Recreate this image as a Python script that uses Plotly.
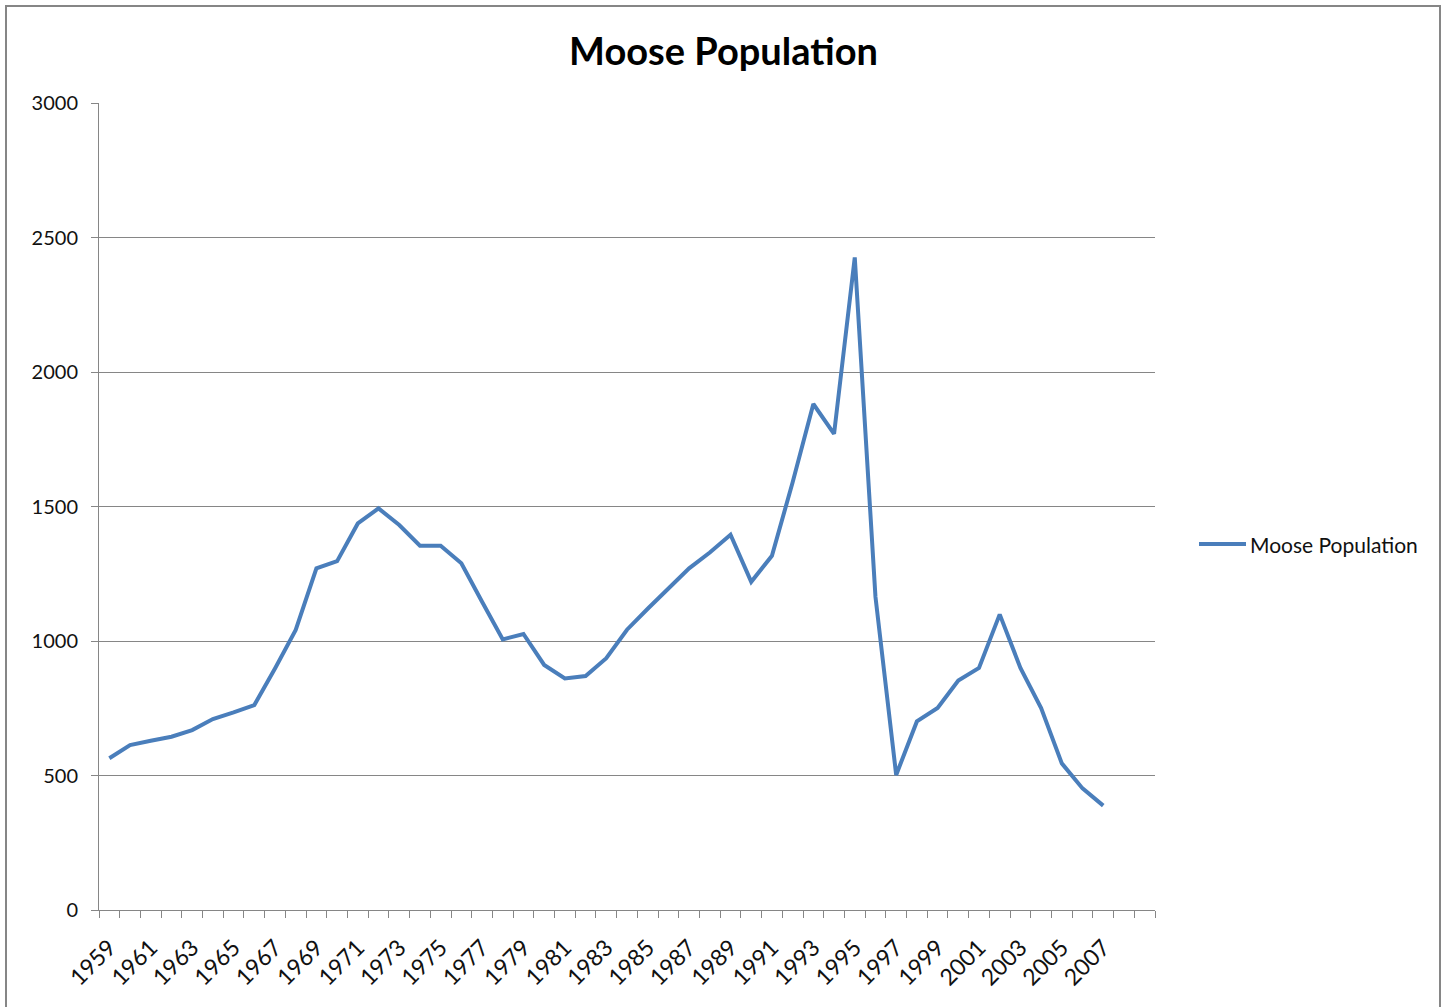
import plotly.graph_objects as go

years = list(range(1959, 2008))
moose = [564, 613, 629, 644, 669, 710, 735, 762, 898, 1041,
         1270, 1297, 1437, 1493, 1431, 1354, 1354, 1289, 1146, 1006,
         1026, 911, 861, 870, 936, 1042, 1120, 1196, 1270, 1329,
         1395, 1220, 1317, 1590, 1881, 1770, 2426, 1164, 502, 701,
         751, 853, 900, 1099, 900, 751, 545, 452, 388]
tick_years = list(range(1959, 2008, 2))
tick_text = [str(y) for y in tick_years]
y_ticks = [0, 500, 1000, 1500, 2000, 2500, 3000]

W, H = 1447, 1007
L, R, T, B = 99, 1155, 103, 910
pw, ph = R - L, B - T

def px(x):
    return (x - L) / pw

def py(y):
    return (B - y) / ph

FONT = "Lato, Carlito, Calibri, sans-serif"
LINE = "#4a7ebb"
GRID = "#868686"

fig = go.Figure()
fig.add_trace(go.Scatter(x=years, y=moose, mode="lines", name="Moose Population",
                         line=dict(color=LINE, width=4), showlegend=False))

fig.update_layout(
    width=W, height=H,
    margin=dict(l=L, r=W - R, t=T, b=H - B, autoexpand=False),
    paper_bgcolor="white", plot_bgcolor="white",
    font=dict(family=FONT, size=20, color="#111"),
    title=dict(text="<b>Moose Population</b>", x=0.5, xref="container", xanchor="center",
               y=1 - 52 / H, yref="container", yanchor="middle",
               font=dict(family=FONT, size=38, color="#000")),
)
fig.update_xaxes(
    range=[1958.5, 2009.5], showgrid=False, zeroline=False,
    tickmode="array", tickvals=tick_years, ticktext=tick_text, tickangle=-45,
    ticks="", showline=True, linecolor=GRID, linewidth=1,
    tickfont=dict(family=FONT, size=23, color="#111"), ticklabelstandoff=14,
    minor=dict(tick0=1958.5, dtick=1, ticks="outside", ticklen=7, tickcolor=GRID, tickwidth=1, showgrid=False),
)
fig.update_yaxes(
    range=[0, 3000], tickvals=y_ticks, showgrid=True, gridcolor=GRID, gridwidth=1,
    zeroline=False, showline=True, linecolor=GRID, linewidth=1,
    ticks="outside", ticklen=7, tickcolor=GRID,
    tickfont=dict(family=FONT, size=20, color="#111"), ticklabelstandoff=9,
)

# chart border
fig.add_shape(type="rect", xref="paper", yref="paper",
              x0=px(6), x1=px(1440), y0=py(1012), y1=py(6),
              line=dict(color=GRID, width=2), fillcolor="rgba(0,0,0,0)", layer="below")

# legend
fig.add_shape(type="line", xref="paper", yref="paper",
              x0=px(1199), x1=px(1246), y0=py(544), y1=py(544),
              line=dict(color=LINE, width=4))
fig.add_annotation(xref="paper", yref="paper", x=px(1248), y=py(544),
                   text="Moose Population", showarrow=False, xanchor="left", yanchor="middle",
                   font=dict(family=FONT, size=21, color="#111"))

fig.write_html("out.html", config={"displayModeBar": False},
               post_script="document.body.style.margin='0';")
